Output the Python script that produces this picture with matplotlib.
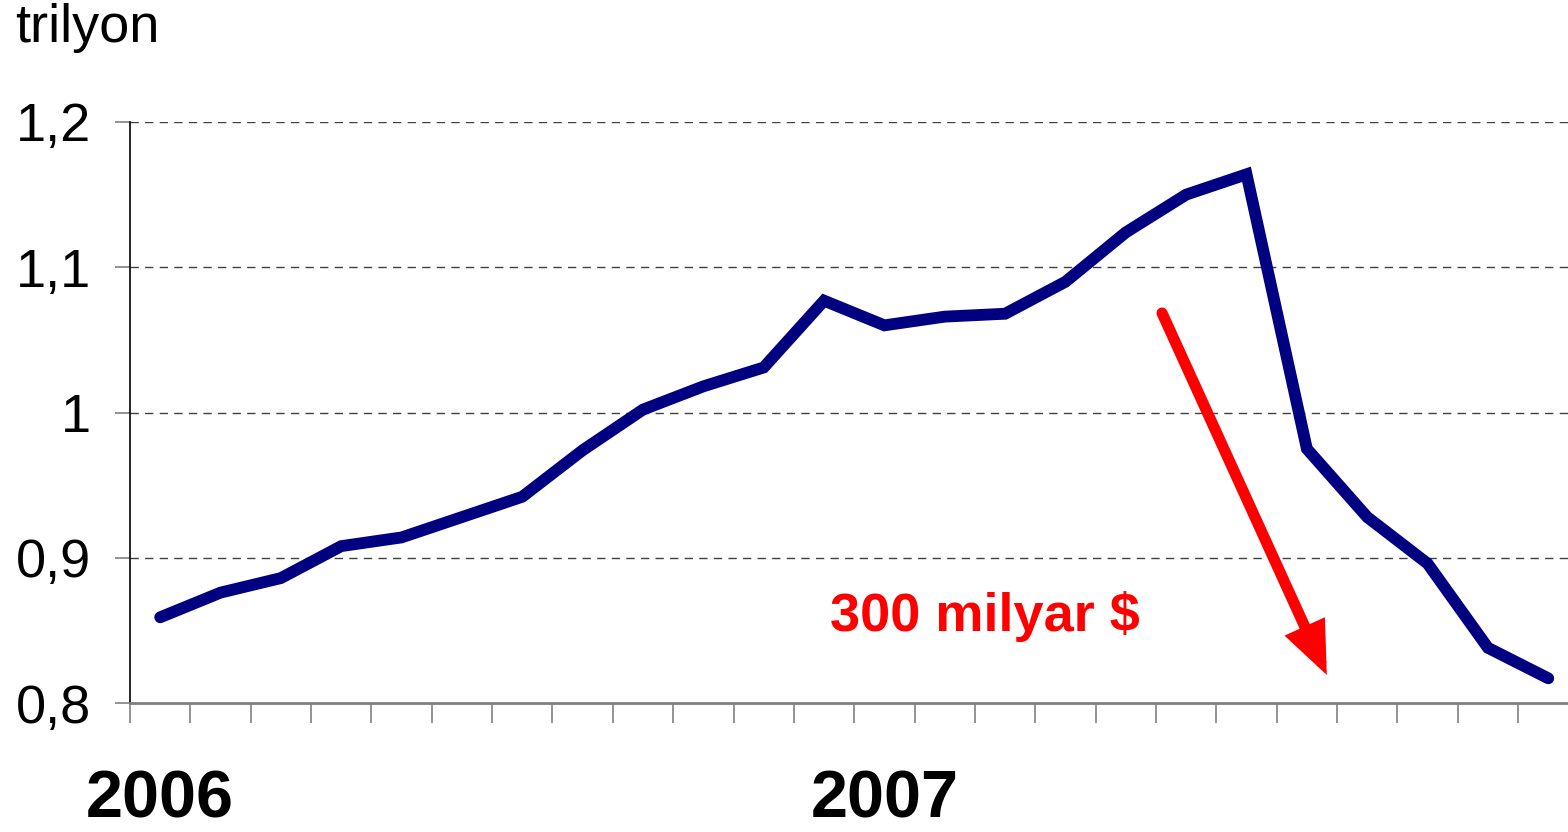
import matplotlib
matplotlib.use("Agg")
import matplotlib.pyplot as plt
from matplotlib.transforms import blended_transform_factory
import numpy as np

# Monthly values, Jan 2006 - Dec 2007 (trillion)
months = list(range(24))
values = [0.859, 0.876, 0.886, 0.908, 0.914, 0.928, 0.942, 0.974, 1.002, 1.018,
          1.031, 1.077, 1.060, 1.066, 1.068, 1.090, 1.124, 1.150, 1.164, 0.975,
          0.928, 0.896, 0.838, 0.817]
year_labels = ["2006", "2007"]
year_pos = [0, 12]
yticks = [0.8, 0.9, 1.0, 1.1, 1.2]
ytick_labels = ["0,8", "0,9", "1", "1,1", "1,2"]
unit_label = "trilyon"
annot_text = "300 milyar $"
arrow_start = (16.60, 1.0685)
arrow_end = (19.33, 0.8193)

plt.rcParams['font.family'] = ['Liberation Sans', 'DejaVu Sans']

fig = plt.figure(figsize=(15.68, 8.32), dpi=100)
ax = fig.add_axes([130/1568, 1-703/832, 1-130/1568, (703-122)/832])

ax.plot(months, values, color='#000080', lw=8.5, solid_capstyle='round',
        solid_joinstyle='miter', zorder=3)

ax.set_xlim(-0.5, (1568-160)/60.36)
ax.set_ylim(0.8, 1.2)

ax.set_yticks(yticks)
ax.set_yticklabels(ytick_labels, fontsize=39)
for y in yticks[1:]:
    ax.axhline(y, color='#404040', lw=1.0, ls=(0, (6, 4.5)), zorder=1)

ax.tick_params(axis='y', direction='out', length=11, width=1.2, color='#808080', pad=17)
ax.set_xticks(np.arange(-0.5, 23, 1.0))
ax.set_xticklabels([])
ax.tick_params(axis='x', direction='out', length=14.5, width=1.2, color='#808080')

for s in ['top', 'right']:
    ax.spines[s].set_visible(False)
ax.spines['bottom'].set_color('#808080')
ax.spines['bottom'].set_linewidth(2)
ax.spines['left'].set_color('black')
ax.spines['left'].set_linewidth(1.2)

trans = blended_transform_factory(ax.transData, fig.transFigure)
for p, lab in zip(year_pos, year_labels):
    ax.text(p, 1-817/832, lab, transform=trans, ha='center', va='baseline',
            fontsize=48, fontweight='bold', color='black')

fig.text(15/1568, 1-42/832, unit_label, ha='left', va='baseline', fontsize=39)

ax.text((985-160)/60.36, 0.8 + (703-631)/1452.5, annot_text, ha='center', va='baseline',
        fontsize=39, fontweight='bold', color='#ff0000')

ax.annotate('', xy=arrow_end, xytext=arrow_start,
            arrowprops=dict(arrowstyle='-|>,head_length=2.4,head_width=1.0',
                            color='#ff0000', lw=8, shrinkA=0, shrinkB=0,
                            joinstyle='miter'))

fig.savefig('out.png', dpi=100)
